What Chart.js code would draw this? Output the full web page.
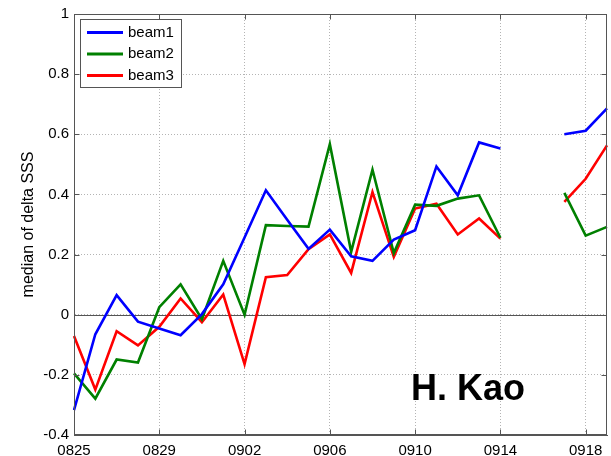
<!DOCTYPE html>
<html>
<head>
<meta charset="utf-8">
<title>median of delta SSS</title>
<script src="https://cdn.jsdelivr.net/npm/chart.js@4/dist/chart.umd.min.js"></script>
<style>
    html, body { margin: 0; padding: 0; background: #fff; }
    #wrap { position: relative; width: 611px; height: 456px; }
</style>
</head>
<body>
<div id="wrap"><canvas id="sssChart"></canvas></div>
<script>
// dates (MMDD), one per day
const dates = ['0825', '0826', '0827', '0828', '0829', '0830', '0831',
    '0901', '0902', '0903', '0904', '0905', '0906', '0907', '0908', '0909', '0910',
    '0911', '0912', '0913', '0914', '0915', '0916', '0917', '0918', '0919'];
const tickLabels = ['0825', '0829', '0902', '0906', '0910', '0914', '0918'];
const yTicks = [-0.4, -0.2, 0, 0.2, 0.4, 0.6, 0.8, 1];

const beam1 = [-0.317, -0.065, 0.065, -0.023, -0.046, -0.068, 0.002, 0.101, 0.257, 0.414,
    0.316, 0.219, 0.283, 0.194, 0.179, 0.25, 0.281, 0.493, 0.397, 0.573, 0.553,
    null, null, 0.6, 0.612, 0.686];
const beam2 = [-0.195, -0.279, -0.149, -0.159, 0.025, 0.101, -0.015, 0.179, 0.0, 0.298,
    0.295, 0.293, 0.567, 0.209, 0.482, 0.205, 0.366, 0.362, 0.386, 0.397, 0.256,
    null, null, 0.405, 0.263, 0.292];
const beam3 = [-0.071, -0.249, -0.055, -0.102, -0.04, 0.054, -0.025, 0.067, -0.164, 0.125,
    0.132, 0.218, 0.267, 0.139, 0.408, 0.192, 0.353, 0.369, 0.267, 0.32, 0.253,
    null, null, 0.375, 0.452, 0.563];

const seriesNames = ['beam1', 'beam2', 'beam3'];
const seriesColors = ['#0000ff', '#008000', '#ff0000'];
const stamp = 'H. Kao';

document.addEventListener('DOMContentLoaded', () => {
    const fontFamily = '"Liberation Sans", Arial, Helvetica, sans-serif';
    const axisColor = '#555555';

    // box, inward ticks, zero line, legend and stamp (matlab look)
    const matlabAxes = {
        id: 'matlabAxes',
        beforeDatasetsDraw(chart) {
            const {ctx, chartArea: a, scales: {y}} = chart;
            const y0 = Math.round(y.getPixelForValue(0)) + 0.5;
            ctx.save();
            ctx.strokeStyle = axisColor;
            ctx.lineWidth = 1;
            ctx.beginPath();
            ctx.moveTo(a.left, y0);
            ctx.lineTo(a.right, y0);
            ctx.stroke();
            ctx.restore();
        },
        afterDatasetsDraw(chart) {
            const {ctx, chartArea: a, scales: {x, y}} = chart;
            const l = Math.round(a.left) + 0.5, r = Math.round(a.right) - 0.5;
            const t = Math.round(a.top) + 0.5, b = Math.round(a.bottom) - 0.5;
            ctx.save();
            ctx.strokeStyle = axisColor;
            ctx.lineWidth = 1;
            ctx.strokeRect(l, t, r - l, b - t);
            ctx.beginPath();
            dates.forEach((d, i) => {
                if (!tickLabels.includes(d)) return;
                const px = Math.round(x.getPixelForValue(i)) + 0.5;
                ctx.moveTo(px, b); ctx.lineTo(px, b - 5);
                ctx.moveTo(px, t); ctx.lineTo(px, t + 5);
            });
            yTicks.forEach(v => {
                const py = Math.round(y.getPixelForValue(v)) + 0.5;
                ctx.moveTo(l, py); ctx.lineTo(l + 5, py);
                ctx.moveTo(r, py); ctx.lineTo(r - 5, py);
            });
            ctx.stroke();

            // legend box
            ctx.fillStyle = '#fff';
            ctx.fillRect(80.5, 19.5, 101, 68);
            ctx.strokeRect(80.5, 19.5, 101, 68);
            ctx.font = '15px ' + fontFamily;
            ctx.textBaseline = 'middle';
            seriesNames.forEach((name, i) => {
                const ly = 32.5 + i * 21.5;
                ctx.strokeStyle = seriesColors[i];
                ctx.lineWidth = 3;
                ctx.beginPath();
                ctx.moveTo(87, ly);
                ctx.lineTo(123, ly);
                ctx.stroke();
                ctx.fillStyle = '#000';
                ctx.fillText(name, 128, ly);
            });

            ctx.font = 'bold 36px ' + fontFamily;
            ctx.textBaseline = 'alphabetic';
            ctx.fillStyle = '#000';
            ctx.fillText(stamp, 411, 400);
            ctx.restore();
        }
    };

    const ctx = document.getElementById('sssChart').getContext('2d');
    new Chart(ctx, {
        type: 'line',
        data: {
            labels: dates,
            datasets: [beam1, beam2, beam3].map((vals, i) => ({
                label: seriesNames[i],
                data: vals,
                borderColor: seriesColors[i],
                backgroundColor: seriesColors[i],
                borderWidth: 2.6,
                pointRadius: 0,
                tension: 0,
                spanGaps: false
            }))
        },
        options: {
            responsive: true,
            maintainAspectRatio: false,
            animation: false,
            layout: { padding: { top: 13, right: 4, left: 0, bottom: 0 } },
            plugins: {
                legend: { display: false },
                tooltip: { enabled: false }
            },
            scales: {
                x: {
                    type: 'category',
                    offset: false,
                    grid: { color: '#b4b4b4', drawTicks: false, offset: false },
                    border: { display: true, color: axisColor, dash: [1, 2] },
                    ticks: {
                        autoSkip: false,
                        maxRotation: 0,
                        padding: 7,
                        color: '#000',
                        font: { family: fontFamily, size: 15 },
                        callback: (val, i) => tickLabels.includes(dates[i]) ? dates[i] : null
                    },
                    afterFit: scale => { scale.height = 21; }
                },
                y: {
                    min: -0.4,
                    max: 1,
                    grid: { color: '#b4b4b4', drawTicks: false },
                    border: { display: true, color: axisColor, dash: [1, 2] },
                    ticks: {
                        stepSize: 0.2,
                        padding: 5,
                        color: '#000',
                        font: { family: fontFamily, size: 15 },
                        callback: v => String(Math.round(v * 10) / 10)
                    },
                    title: {
                        display: true,
                        text: 'median of delta SSS',
                        color: '#000',
                        font: { family: fontFamily, size: 16 },
                        padding: { top: 19, bottom: 0 }
                    },
                    afterFit: scale => { scale.width = 74; }
                }
            }
        },
        plugins: [matlabAxes]
    });
});
</script>
</body>
</html>
